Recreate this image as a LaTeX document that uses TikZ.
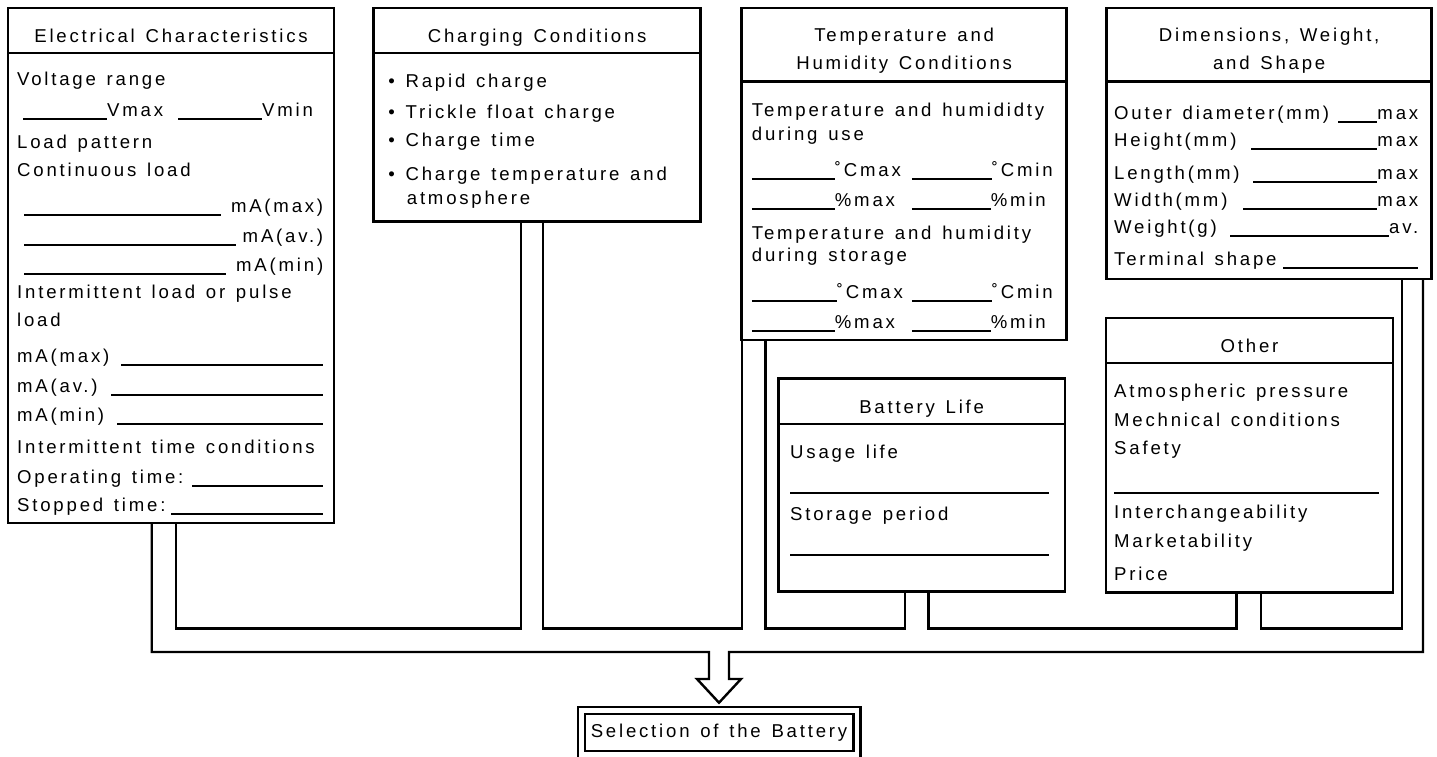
\documentclass[tikz,border=0pt]{standalone}
\usepackage{fontspec}
\setmainfont{Liberation Sans}[LetterSpace=15, WordSpace=1.35]
\usetikzlibrary{positioning}

\newcommand{\formline}[1]{\rule[-3.5pt]{#1pt}{2pt}}

\begin{document}
\begin{tikzpicture}[x=1pt, y=-1pt, font=\fontsize{18.6pt}{30pt}\selectfont,
    hd/.style = {draw, line width=2.7pt, inner sep=0pt, outer sep=0pt, anchor=north west, minimum width=#1, minimum height=45pt, text width=#1-16pt, align=flush center, text height=24pt, text depth=0pt},
    bd/.style = {draw, line width=2.7pt, inner sep=0pt, outer sep=0pt, minimum width=#1},
    txt/.style = {anchor=base west, inner sep=0pt, align=flush left, text width=#1},
    pipe/.style = {line width=2.4pt}]
    \useasboundingbox (0,0) rectangle (1437,756);

    \node[hd=326pt] (elec) at (8,8) {Electrical Characteristics};
    \node[bd=326pt] (elecbody) [below=0pt of elec, minimum height=470pt] {};
    \node[hd=327pt] (chg) at (373.7,8) {Charging Conditions};
    \node[bd=327pt] (chgbody) [below=0pt of chg, minimum height=168.7pt] {};
    \node[hd=325pt, minimum height=73.7pt, text depth=30.3pt, font=\fontsize{18.6pt}{27.6pt}\selectfont] (temp) at (741.7,8) {Temperature and\\Humidity Conditions};
    \node[bd=325pt] (tempbody) [below=0pt of temp, minimum height=258.3pt] {};
    \node[hd=325pt, minimum height=73.7pt, text depth=30.3pt, font=\fontsize{18.6pt}{27.6pt}\selectfont] (dim) at (1106.7,8) {Dimensions, Weight,\\and Shape};
    \node[bd=325pt] (dimbody) [below=0pt of dim, minimum height=197.3pt] {};
    \node[hd=287pt] (oth) at (1106,318) {Other};
    \node[bd=287pt] (othbody) [below=0pt of oth, minimum height=229.7pt] {};
    \node[hd=286.7pt, minimum height=45.7pt] (life) at (778.3,378.3) {Battery Life};
    \node[bd=286.7pt] (lifebody) [below=0pt of life, minimum height=167.7pt] {};
    \node[draw, double, double distance=4.5pt, line width=2.5pt, inner sep=0pt, outer sep=0pt, minimum width=275.5pt, minimum height=44pt] (sel) at (719,732.7) {Selection of the Battery};

    \node[txt=306pt] (electext) at ([xshift=9pt, yshift=-32pt]elecbody.north west) {Voltage range\\[1.7pt]
        \hspace*{6pt}\makebox[155pt][l]{\formline{84}Vmax}\formline{84}Vmin\\[1.3pt]
        Load pattern\\[-2pt]
        Continuous load\\[6.7pt]
        \hspace*{7pt}\formline{197}\hfill mA(max)\\
        \hspace*{7pt}\formline{212}\hfill mA(av.)\\[-1pt]
        \hspace*{7pt}\formline{202}\hfill mA(min)\\[-3.7pt]
        Intermittent load or pulse\\[-2pt]
        load\\[6.7pt]
        mA(max)\hfill\formline{202}\\
        mA(av.)\hfill\formline{212}\\[-1pt]
        mA(min)\hfill\formline{206}\\[1.3pt]
        Intermittent time conditions\\
        Operating time:\hfill\formline{131}\\[-1.3pt]
        Stopped time:\hfill\formline{152}};
    \node[txt=305pt] (chgtext) at ([xshift=14.5pt, yshift=-34.3pt]chgbody.north west) {• Rapid charge\\[0.7pt]
        • Trickle float charge\\[-1.3pt]
        • Charge time\\[3.3pt]
        • Charge temperature and\\[-6pt]
        \hspace*{18.5pt}atmosphere};
    \node[txt=310pt] (temptext) at ([xshift=10pt, yshift=-35pt]tempbody.north west) {Temperature and humididty\\[-6.7pt]
        during use\\[6pt]
        \makebox[160pt][l]{\formline{83}˚Cmax}\formline{80}˚Cmin\\
        \makebox[160pt][l]{\formline{83}\%max}\formline{79}\%min\\[3.3pt]
        Temperature and humidity\\[-7.6pt]
        during storage\\[6.6pt]
        \makebox[160pt][l]{\formline{85}˚Cmax}\formline{80}˚Cmin\\
        \makebox[160pt][l]{\formline{83}\%max}\formline{79}\%min};
    \node[txt=304pt, font=\fontsize{18.6pt}{27pt}\selectfont] (dimtext) at ([xshift=7.3pt, yshift=-37.6pt]dimbody.north west) {Outer diameter(mm)\hfill\formline{39}max\\
        Height(mm)\hfill\formline{126}max\\[6.3pt]
        Length(mm)\hfill\formline{124}max\\
        Width(mm)\hfill\formline{134}max\\
        Weight(g)\hfill\formline{159}av.\\[4.4pt]
        Terminal shape\hfill\formline{135}};
    \node[txt=270pt, font=\fontsize{18.6pt}{29pt}\selectfont] (othtext) at ([xshift=8pt, yshift=-34.3pt]othbody.north west) {Atmospheric pressure\\
        Mechnical conditions\\[-1.3pt]
        Safety\\[7.8pt]
        \formline{265}\\[-1.5pt]
        Interchangeability\\
        Marketability\\[3.7pt]
        Price};
    \node[txt=262pt, font=\fontsize{18.6pt}{31pt}\selectfont] (lifetext) at ([xshift=11.7pt, yshift=-34pt]lifebody.north west) {Usage life\\[1.5pt]
        \formline{259}\\[-1.5pt]
        Storage period\\[1.5pt]
        \formline{259}};

    \coordinate (tip) at ([yshift=8pt]sel.north);
    \coordinate (bus) at ([yshift=50.7pt]tip);
    \draw[pipe] ([xshift=143.7pt]elecbody.south west) |- ([xshift=-10pt]bus) -- ++(0,27) -- ++(-12,0) -- (tip) -- ++(22,-23.7) -- ++(-12,0) -- ++(0,-27) -| ([xshift=-8.7pt]dimbody.south east);
    \draw[pipe] ([xshift=167.7pt]elecbody.south west) -- ++(0,105.5) -| ([xshift=147pt]chgbody.south west);
    \draw[pipe] ([xshift=169.3pt]chgbody.south west) -- ++(0,406.8) -| (tempbody.south west);
    \draw[pipe] ([xshift=23.8pt]tempbody.south west) -- ++(0,288.5) -| ([xshift=126.7pt]lifebody.south west);
    \draw[pipe] ([xshift=150.2pt]lifebody.south west) -- ++(0,36.8) -| ([xshift=130.5pt]othbody.south west);
    \draw[pipe] ([xshift=154.7pt]othbody.south west) -- ++(0,35.8) -| ([xshift=-30pt]dimbody.south east);
\end{tikzpicture}
\end{document}
